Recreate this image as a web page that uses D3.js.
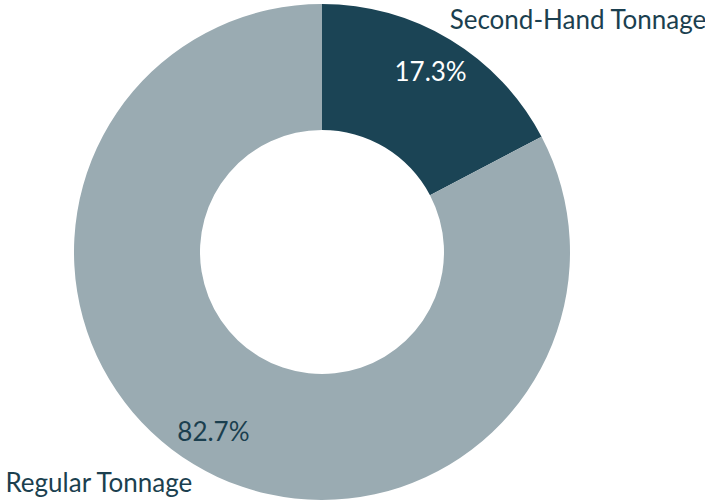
<!DOCTYPE html>
<html>
<head>
<meta charset="utf-8">
<script src="https://cdn.jsdelivr.net/npm/d3@7"></script>
<style>
  html, body { margin: 0; padding: 0; background: #fff; }
  svg text { font-family: Lato, "Open Sans", sans-serif; }
</style>
</head>
<body>
<div id="chart"></div>
<script>
// values
var categories = ["Second-Hand Tonnage", "Regular Tonnage"];
var shares = [17.3, 82.7];
var colors = ["#1b4455", "#9aabb2"];
var valueColors = ["#ffffff", "#1b3f4f"];

var width = 705, height = 501;
var cx = 322, cy = 252;
var outerR = 248, innerR = 122;

var svg = d3.select("#chart").append("svg")
    .attr("width", width)
    .attr("height", height);

var g = svg.append("g").attr("transform", "translate(" + cx + "," + cy + ")");

var data = categories.map(function(c, i) { return {name: c, value: shares[i], i: i}; });

var pie = d3.pie().sort(null).value(function(d) { return d.value; });
var arcs = pie(data);

var arc = d3.arc().innerRadius(innerR).outerRadius(outerR);
var valueArc = d3.arc().innerRadius(210).outerRadius(210);
var nameArc = d3.arc().innerRadius(272).outerRadius(272);

g.selectAll("path.slice")
    .data(arcs)
    .enter().append("path")
    .attr("class", "slice")
    .attr("d", arc)
    .attr("fill", function(d) { return colors[d.data.i]; });

// percentage labels
g.selectAll("text.val")
    .data(arcs)
    .enter().append("text")
    .attr("class", "val")
    .attr("x", function(d) { return valueArc.centroid(d)[0]; })
    .attr("y", function(d) { return valueArc.centroid(d)[1]; })
    .attr("dy", "0.35em")
    .attr("text-anchor", "middle")
    .attr("font-size", 26)
    .attr("fill", function(d) { return valueColors[d.data.i]; })
    .text(function(d) { return d.data.value.toFixed(1) + "%"; });

// category labels, outside the ring
g.selectAll("text.name")
    .data(arcs)
    .enter().append("text")
    .attr("class", "name")
    .attr("x", function(d) {
        var p = nameArc.centroid(d);
        return d.data.i == 0 ? p[0] - 13 : p[0] + 11;
    })
    .attr("y", function(d) {
        var p = nameArc.centroid(d);
        return d.data.i == 0 ? p[1] + 1 : p[1] - 2;
    })
    .attr("dy", "0.35em")
    .attr("text-anchor", function(d) { return d.data.i == 0 ? "start" : "end"; })
    .attr("font-size", 26)
    .attr("fill", "#1b3f4f")
    .text(function(d) { return d.data.name; });
</script>
</body>
</html>
